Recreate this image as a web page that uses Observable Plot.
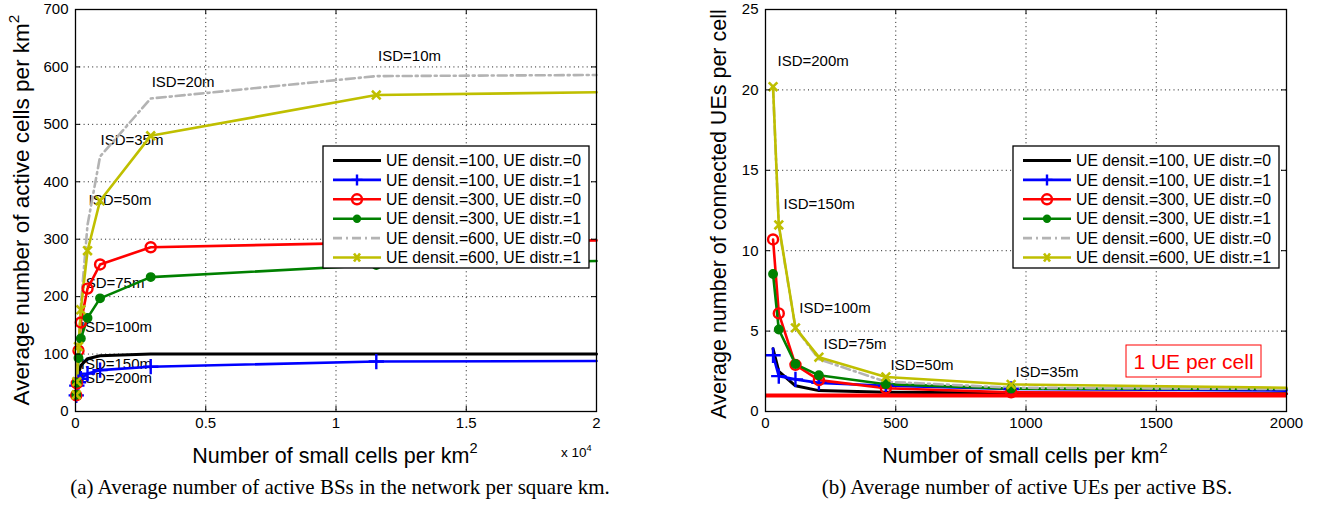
<!DOCTYPE html>
<html><head><meta charset="utf-8">
<script src="https://cdn.jsdelivr.net/npm/d3@7"></script>
<script src="https://cdn.jsdelivr.net/npm/@observablehq/plot@0.6"></script>
<style>
body{margin:0;background:#fff;width:1320px;height:507px;overflow:hidden;font-family:"Liberation Sans",Arial,sans-serif;}
#wrap{position:relative;width:1320px;height:507px;}
#wrap svg{position:absolute;top:0;}
.cap{position:absolute;top:475px;font-family:"Liberation Serif","Times New Roman",serif;font-size:21px;white-space:nowrap;transform:translateX(-50%);color:#000;}
</style></head><body><div id="wrap"></div>
<script>
// ---------- data ----------
const seriesNames = [
  "UE densit.=100, UE distr.=0",
  "UE densit.=100, UE distr.=1",
  "UE densit.=300, UE distr.=0",
  "UE densit.=300, UE distr.=1",
  "UE densit.=600, UE distr.=0",
  "UE densit.=600, UE distr.=1"
];
const seriesColors = ["#000000","#0000ff","#ff0000","#008000","#b3b3b3","#bfbf00"];
const seriesDash   = ["none","none","none","none","9,4,2,4","none"];
const seriesMarker = ["none","plus","circle","dot","none","times"];

// panel (a): active cells per km^2 vs small cells per km^2
const xA = [29, 51, 115, 205, 462, 943, 2887, 11547, 20000];
const aBlack  = [26, 42, 66, 80, 92, 97, 100, 100, 100];
const aBlue   = [28, 45, 51, 57, 66, 72, 78, 87, 88];
const aRed    = [28, 49, 106, 155, 214, 256, 286, 294, 298];
const aGreen  = [29, 50, 93, 127, 163, 197, 234, 255, 262];
const aGray   = [29, 51, 113, 185, 325, 444, 545, 584, 586];
const aYellow = [29, 52, 113, 177, 280, 367, 480, 551, 556];

// panel (b): connected UEs per cell vs small cells per km^2
const xB = [29, 51, 115, 205, 462, 943, 2000];
const bBlack  = [3.9, 2.5, 1.6, 1.3, 1.2, 1.15, 1.1];
const bBlue   = [3.5, 2.2, 2.0, 1.78, 1.6, 1.4, 1.3];
const bRed    = [10.7, 6.1, 2.9, 1.95, 1.45, 1.19, 1.1];
const bGreen  = [8.55, 5.1, 2.95, 2.25, 1.7, 1.42, 1.4];
const bGray   = [20.1, 11.5, 5.2, 3.25, 1.85, 1.48, 1.4];
const bYellow = [20.2, 11.6, 5.2, 3.38, 2.15, 1.68, 1.48];

const ticksAx = [0, 5000, 10000, 15000, 20000];
const tickLabelsAx = ["0", "0.5", "1", "1.5", "2"];
const ticksAy = [0, 100, 200, 300, 400, 500, 600, 700];
const ticksBx = [0, 500, 1000, 1500, 2000];
const ticksBy = [0, 5, 10, 15, 20, 25];

const isdA = ["ISD=10m","ISD=20m","ISD=35m","ISD=50m","ISD=75m","ISD=100m","ISD=150m","ISD=200m"];
const isdAx = [11615, 2923, 960, 500, 230, 200, 200, 200];
const isdAy = [618, 573, 473, 368, 224, 146, 83, 58];

const isdB = ["ISD=200m","ISD=150m","ISD=100m","ISD=75m","ISD=50m","ISD=35m"];
const isdBx = [46, 69, 130, 223, 480, 960];
const isdBy = [21.8, 12.9, 6.4, 4.2, 2.9, 2.45];

const oneUE = 1;
const oneUELabel = "1 UE per cell";

const xLabel = "Number of small cells per km";
const yLabelA = "Average number of active cells per km";
const yLabelB = "Average number of connected UEs per cell";
const captionA = "(a) Average number of active BSs in the network per square km.";
const captionB = "(b) Average number of active UEs per active BS.";

// ---------- helpers ----------
function buildRows(xs, ys) {
  return ys.flatMap((arr, s) => arr.map((y, i) => ({s, x: xs[i], y})));
}

function seriesMarks(rows, xmax) {
  const marks = [];
  seriesNames.forEach((_, s) => {
    const d = rows.filter(r => r.s === s);
    marks.push(Plot.line(d, {x: "x", y: "y", stroke: seriesColors[s],
      strokeWidth: s === 0 ? 3 : 2.6, strokeDasharray: seriesDash[s] === "none" ? undefined : seriesDash[s]}));
  });
  seriesNames.forEach((_, s) => {
    const d = rows.filter(r => r.s === s && r.x < xmax);
    const m = seriesMarker[s];
    if (m === "plus") marks.push(Plot.dot(d, {x: "x", y: "y", symbol: "plus", r: 5, stroke: seriesColors[s], strokeWidth: 2.4}));
    if (m === "circle") marks.push(Plot.dot(d, {x: "x", y: "y", symbol: "circle", r: 5, stroke: seriesColors[s], fill: "none", strokeWidth: 2.4}));
    if (m === "dot") marks.push(Plot.dot(d, {x: "x", y: "y", symbol: "circle", r: 4.2, fill: seriesColors[s], stroke: seriesColors[s]}));
    if (m === "times") marks.push(Plot.dot(d, {x: "x", y: "y", symbol: "times", r: 4, stroke: seriesColors[s], strokeWidth: 2.6}));
  });
  return marks;
}

function makePanel({rows, xDomain, yDomain, xTicks, yTicks, xFmt, labels, lx, ly, mL, mR, extra}) {
  const W = 660, H = 507, mT = 9, mB = 96;
  const tlx = (xDomain[1] - xDomain[0]) / (W - mL - mR) * 5;
  const tly = (yDomain[1] - yDomain[0]) / (H - mT - mB) * 5;
  return Plot.plot({
    width: W, height: H, marginLeft: mL, marginRight: mR, marginTop: mT, marginBottom: mB,
    x: {domain: xDomain}, y: {domain: yDomain},
    style: {fontFamily: "Liberation Sans, Arial, sans-serif", fontSize: "15px", background: "transparent", color: "black"},
    marks: [
      Plot.gridX({ticks: xTicks, stroke: "black", strokeOpacity: 0.9, strokeDasharray: "1,3.3", strokeWidth: 1}),
      Plot.gridY({ticks: yTicks, stroke: "black", strokeOpacity: 0.9, strokeDasharray: "1,3.3", strokeWidth: 1}),
      Plot.text(labels, {x: (d, i) => lx[i], y: (d, i) => ly[i], text: d => d, textAnchor: "start", lineAnchor: "middle", fontSize: 15, fill: "black"}),
      ...seriesMarks(rows, xDomain[1]),
      ...(extra || []),
      Plot.ruleX(xTicks, {x: d => d, y1: () => yDomain[0], y2: () => yDomain[0] + tly, stroke: "black", strokeWidth: 1}),
      Plot.ruleX(xTicks, {x: d => d, y1: () => yDomain[1] - tly, y2: () => yDomain[1], stroke: "black", strokeWidth: 1}),
      Plot.ruleY(yTicks, {y: d => d, x1: () => xDomain[0], x2: () => xDomain[0] + tlx, stroke: "black", strokeWidth: 1}),
      Plot.ruleY(yTicks, {y: d => d, x1: () => xDomain[1] - tlx, x2: () => xDomain[1], stroke: "black", strokeWidth: 1}),
      Plot.frame({stroke: "black", strokeWidth: 1.3}),
      Plot.axisX({ticks: xTicks, tickFormat: xFmt, tickSize: 0, tickPadding: 6, label: null}),
      Plot.axisY({ticks: yTicks, tickSize: 0, tickPadding: 7, label: null})
    ]
  });
}

function addText(svg, {x, y, text, sup, size, rotate, anchor}) {
  const t = d3.select(svg).append("text")
    .attr("transform", `translate(${x},${y})` + (rotate ? " rotate(-90)" : ""))
    .attr("text-anchor", anchor || "middle")
    .attr("font-family", "Liberation Sans, Arial, sans-serif")
    .attr("font-size", size).attr("fill", "black");
  t.append("tspan").text(text);
  if (sup) t.append("tspan").attr("dy", -size * 0.45).attr("font-size", size * 0.68).text(sup);
}

function addLegend(svg, x0, y0) {
  const g = d3.select(svg).append("g").attr("text-anchor", "start");
  g.append("rect").attr("x", x0).attr("y", y0).attr("width", 266).attr("height", 122)
    .attr("fill", "white").attr("stroke", "black").attr("stroke-width", 1.3);
  seriesNames.forEach((name, i) => {
    const y = y0 + 14.5 + i * 19.4, c = seriesColors[i], cx = x0 + 34;
    g.append("line").attr("x1", x0 + 10).attr("x2", x0 + 58).attr("y1", y).attr("y2", y)
      .attr("stroke", c).attr("stroke-width", i === 0 ? 3 : 2.6)
      .attr("stroke-dasharray", seriesDash[i] === "none" ? null : seriesDash[i]);
    const m = seriesMarker[i];
    if (m === "plus") g.append("path").attr("d", `M${cx-5.5},${y}H${cx+5.5}M${cx},${y-5.5}V${y+5.5}`).attr("stroke", c).attr("stroke-width", 2.4);
    if (m === "circle") g.append("circle").attr("cx", cx).attr("cy", y).attr("r", 5).attr("fill", "none").attr("stroke", c).attr("stroke-width", 2.4);
    if (m === "dot") g.append("circle").attr("cx", cx).attr("cy", y).attr("r", 4.2).attr("fill", c);
    if (m === "times") g.append("path").attr("d", `M${cx-3},${y-4}L${cx+3},${y+4}M${cx-3},${y+4}L${cx+3},${y-4}`).attr("stroke", c).attr("stroke-width", 2.6);
    g.append("text").attr("x", x0 + 63).attr("y", y).attr("dy", "0.36em").attr("text-anchor", "start")
      .attr("font-family", "Liberation Sans, Arial, sans-serif").attr("font-size", 15.8).attr("fill", "black").text(name);
  });
}

// ---------- panels ----------
const wrap = document.getElementById("wrap");

const svgA = makePanel({
  rows: buildRows(xA, [aBlack, aBlue, aRed, aGreen, aGray, aYellow]),
  xDomain: [0, 20000], yDomain: [0, 700], xTicks: ticksAx, yTicks: ticksAy,
  xFmt: d => tickLabelsAx[ticksAx.indexOf(d)],
  labels: isdA, lx: isdAx, ly: isdAy, mL: 75, mR: 64
});
svgA.style.left = "0px";
wrap.appendChild(svgA);
addLegend(svgA, 323, 146);
addText(svgA, {x: 335, y: 463, text: xLabel, sup: "2", size: 21.5});
addText(svgA, {x: 29, y: 210, text: yLabelA, sup: "2", size: 22.5, rotate: true});
addText(svgA, {x: 561, y: 457, text: "x 10", sup: "4", size: 13.5, anchor: "start"});

const svgB = makePanel({
  rows: buildRows(xB, [bBlack, bBlue, bRed, bGreen, bGray, bYellow]),
  xDomain: [0, 2000], yDomain: [0, 25], xTicks: ticksBx, yTicks: ticksBy,
  xFmt: d => String(d),
  labels: isdB, lx: isdBx, ly: isdBy, mL: 105, mR: 34,
  extra: [Plot.ruleY([oneUE], {stroke: "#ff0000", strokeWidth: 4})]
});
svgB.style.left = "660px";
wrap.appendChild(svgB);
addLegend(svgB, 353, 146);
addText(svgB, {x: 365, y: 463, text: xLabel, sup: "2", size: 21.5});
addText(svgB, {x: 66, y: 214, text: yLabelB, size: 21.5, rotate: true});
{
  const g = d3.select(svgB).append("g");
  g.append("rect").attr("x", 466).attr("y", 345).attr("width", 135).attr("height", 32)
    .attr("fill", "white").attr("stroke", "#ff0000").attr("stroke-width", 1);
  g.append("text").attr("x", 533.5).attr("y", 361).attr("dy", "0.36em").attr("text-anchor", "middle")
    .attr("font-family", "Liberation Sans, Arial, sans-serif").attr("font-size", 21).attr("fill", "#ff0000").text(oneUELabel);
}

// captions
[[captionA, 340], [captionB, 1027]].forEach(([t, x]) => {
  const d = document.createElement("div");
  d.className = "cap"; d.style.left = x + "px"; d.textContent = t;
  wrap.appendChild(d);
});
</script>
</body></html>
